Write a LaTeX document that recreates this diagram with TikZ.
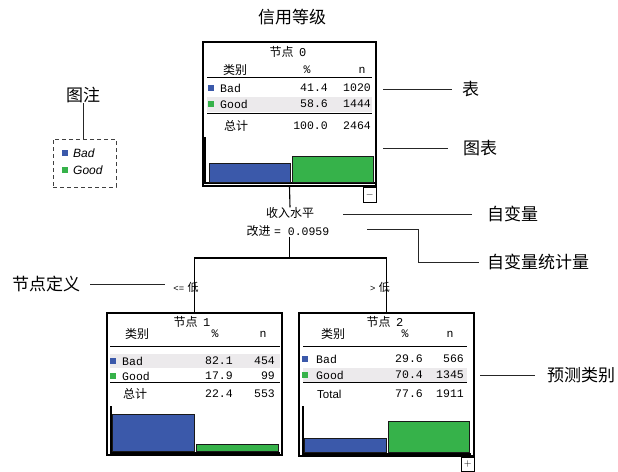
\documentclass[tikz,border=0pt]{standalone}
\usepackage{fontspec}
\newfontfamily\cjk{Noto Sans CJK SC}
\newfontfamily\monof{Liberation Mono}
\newfontfamily\sansf{Liberation Sans}
\definecolor{barblue}{RGB}{59,89,170}
\definecolor{bargreen}{RGB}{54,178,74}
\definecolor{hl}{RGB}{236,234,236}
\begin{document}
\begin{tikzpicture}[x=1pt,y=-1pt,
  tab/.style={inner sep=0pt, font=\monof\fontsize{11.5}{12}\selectfont},
  tabc/.style={inner sep=0pt, font=\cjk\fontsize{12}{13}\selectfont},
  ann/.style={inner sep=0pt, anchor=west, font=\cjk\fontsize{17}{18}\selectfont},
  annline/.style={line width=0.9pt, draw=black!85},
  treeline/.style={line width=1.1pt},
  nodebox/.style={draw, line width=1.2pt, inner sep=0pt},
  sqmark/.style={inner sep=0pt, minimum size=6pt},
  rule/.style={line width=1pt},
  bar/.style={draw=black!90, line width=1pt},
  toggle/.style={draw, line width=0.8pt, inner sep=0pt, anchor=north east, font=\fontsize{10}{10}\selectfont},
  lgtext/.style={inner sep=0pt, anchor=west, font=\sansf\itshape\fontsize{12}{13}\selectfont},
]
\useasboundingbox[fill=white] (0,0) rectangle (618,471);

% title
\node[ann, anchor=center] (title) at (292,17) {信用等级};

% ---------- node 0 ----------
\node[nodebox, minimum width=173pt, minimum height=144pt] (n0) at (289.5,114) {};
\node[tabc] (n0t) at (288,52) {节点\ \ {\monof 0}};
\node[tabc] (n0h1) at (235,70) {类别};
\node[tab] (n0h2) at (307,70) {\%};
\node[tab] (n0h3) at (362,70) {n};
\draw[rule] (207,77) -- (372,77);
\fill[hl] (207,97) rectangle (372,112);
\node[sqmark, fill=barblue] (n0m1) at (211,88) {};
\node[tab, anchor=west] (n0b) at (220,88) {Bad};
\node[tab, anchor=east] (n0bp) at (328,88) {41.4};
\node[tab, anchor=east] (n0bn) at (371,88) {1020};
\node[sqmark, fill=bargreen] (n0m2) at (211,104) {};
\node[tab, anchor=west] (n0g) at (220,104) {Good};
\node[tab, anchor=east] (n0gp) at (328,104) {58.6};
\node[tab, anchor=east] (n0gn) at (371,104) {1444};
\draw[rule] (207,113) -- (372,113);
\node[tabc] (n0s) at (236,126) {总计};
\node[tab, anchor=east] (n0sp) at (328,126) {100.0};
\node[tab, anchor=east] (n0sn) at (371,126) {2464};
\draw[treeline] (205,137) -- (205,183) -- (375,183);
\filldraw[bar, fill=barblue] (209,163) rectangle (290,182);
\filldraw[bar, fill=bargreen] (292,156) rectangle (373,182);
\node[toggle, minimum width=13pt, minimum height=15pt] (n0minus) at (n0.south east) {$-$};

% ---------- split ----------
\node[tabc] (var) at (290,213) {收入水平};
\node[inner sep=0pt] (imp) at (288,231) {{\cjk\fontsize{12}{13}\selectfont 改进} {\monof\fontsize{11.5}{12}\selectfont = 0.0959}};
\coordinate (jn) at (289.5,258);

% ---------- node 1 ----------
\node[nodebox, minimum width=175pt, minimum height=142pt] (n1) at (194.5,384) {};
\node[tabc] (n1t) at (192,322) {节点\ \ {\monof 1}};
\node[tabc] (n1h1) at (137,334) {类别};
\node[tab] (n1h2) at (215,334) {\%};
\node[tab] (n1h3) at (263,334) {n};
\draw[rule] (110,346) -- (280,346);
\fill[hl] (110,354) rectangle (280,368);
\node[sqmark, fill=barblue] (n1m1) at (113,361) {};
\node[tab, anchor=west] (n1b) at (122,361) {Bad};
\node[tab, anchor=east] (n1bp) at (233,361) {82.1};
\node[tab, anchor=east] (n1bn) at (275,361) {454};
\node[sqmark, fill=bargreen] (n1m2) at (113,376) {};
\node[tab, anchor=west] (n1g) at (122,376) {Good};
\node[tab, anchor=east] (n1gp) at (233,376) {17.9};
\node[tab, anchor=east] (n1gn) at (275,376) {99};
\draw[rule] (110,382) -- (280,382);
\node[tabc] (n1s) at (135,394) {总计};
\node[tab, anchor=east] (n1sp) at (233,394) {22.4};
\node[tab, anchor=east] (n1sn) at (275,394) {553};
\draw[treeline] (111,406) -- (111,453) -- (280,453);
\filldraw[bar, fill=barblue] (112,414) rectangle (194,451);
\filldraw[bar, fill=bargreen] (196,444) rectangle (278,451);

% ---------- node 2 ----------
\node[nodebox, minimum width=175pt, minimum height=143pt] (n2) at (386.5,384.5) {};
\node[tabc] (n2t) at (385,322) {节点\ \ {\monof 2}};
\node[tabc] (n2h1) at (333,334) {类别};
\node[tab] (n2h2) at (405,334) {\%};
\node[tab] (n2h3) at (450,334) {n};
\draw[rule] (303,346) -- (467,346);
\node[sqmark, fill=barblue] (n2m1) at (305,359) {};
\node[tab, anchor=west] (n2b) at (316,359) {Bad};
\node[tab, anchor=east] (n2bp) at (423,359) {29.6};
\node[tab, anchor=east] (n2bn) at (464,359) {566};
\fill[hl] (303,368) rectangle (467,382);
\node[sqmark, fill=bargreen] (n2m2) at (305,375) {};
\node[tab, anchor=west] (n2g) at (316,375) {Good};
\node[tab, anchor=east] (n2gp) at (423,375) {70.4};
\node[tab, anchor=east] (n2gn) at (464,375) {1345};
\draw[rule] (303,382) -- (467,382);
\node[inner sep=0pt, anchor=west, font=\sansf\fontsize{11.5}{12}\selectfont] (n2s) at (317,394) {Total};
\node[tab, anchor=east] (n2sp) at (423,394) {77.6};
\node[tab, anchor=east] (n2sn) at (464,394) {1911};
\draw[treeline] (303,406) -- (303,454) -- (471,454);
\filldraw[bar, fill=barblue] (304,438) rectangle (386,452);
\filldraw[bar, fill=bargreen] (388,421) rectangle (469,452);
\node[toggle, minimum width=13pt, minimum height=14pt] (n2plus) at (n2.south east) {$+$};

% ---------- tree connectors ----------
\draw[treeline] (n0.south) -- (var.north);
\draw[treeline] (imp.south -| n0.south) -- (jn);
\draw[treeline] (n1.north) |- (jn) -| (n2.north);
\node[inner sep=0pt] (lab1) at (186,287) {{\monof\fontsize{9}{9}\selectfont <=} {\cjk\fontsize{11}{11}\selectfont 低}};
\node[inner sep=0pt] (lab2) at (380,287) {{\monof\fontsize{9}{9}\selectfont >} {\cjk\fontsize{11}{11}\selectfont 低}};

% ---------- legend ----------
\node[ann, anchor=center] (lgt) at (83,95) {图注};
\node[draw=black!75, line width=1pt, dash pattern=on 4pt off 3pt, minimum width=63pt, minimum height=48pt, inner sep=0pt] (leg) at (84.5,163) {};
\draw[annline] (lgt.south) -- (lgt.south |- leg.north);
\node[sqmark, fill=barblue] (lgm1) at (65,153) {};
\node[lgtext] (lgb) at (73,153) {Bad};
\node[sqmark, fill=bargreen] (lgm2) at (65,170) {};
\node[lgtext] (lgg) at (73,170) {Good};

% ---------- annotations ----------
\node[ann] (a1) at (462,89) {表};
\coordinate (a1s) at (383,89);
\draw[annline, shorten >=10pt] (a1s) -- (a1.west);

\node[ann] (a2) at (463,148) {图表};
\coordinate (a2s) at (383,148);
\draw[annline, shorten >=15pt] (a2s) -- (a2.west);

\node[ann] (a3) at (487,214) {自变量};
\coordinate (a3s) at (343,214);
\draw[annline, shorten >=15pt] (a3s) -- (a3.west);

\node[ann] (a4) at (487,262) {自变量统计量};
\coordinate (a4s) at (367,229);
\coordinate (a4k) at (418,229);
\draw[annline, shorten >=8pt] (a4s) -- (a4k) |- (a4.west);

\node[ann] (a5) at (547,375) {预测类别};
\coordinate (a5s) at (480,375);
\draw[annline, shorten >=12pt] (a5s) -- (a5.west);

\node[ann] (a6) at (12,284) {节点定义};
\coordinate (a6e) at (165,284);
\draw[annline, shorten <=10pt] (a6.east) -- (a6e);
\end{tikzpicture}
\end{document}
